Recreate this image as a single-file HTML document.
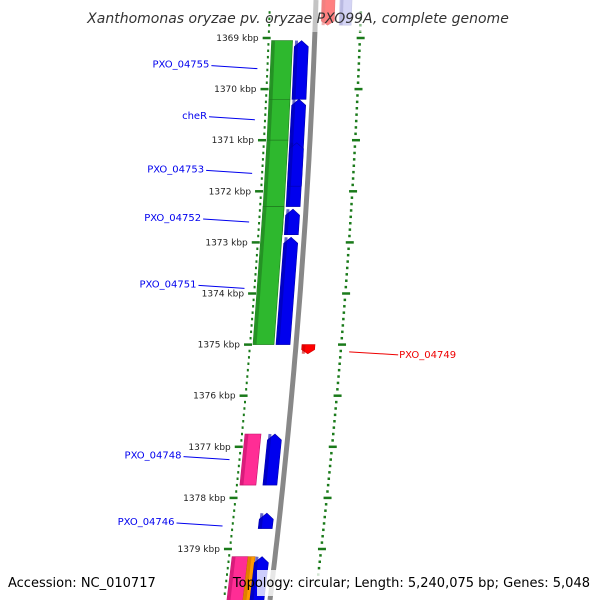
<!DOCTYPE html>
<html><head><meta charset="utf-8"><style>
body{margin:0;background:#fff}
svg{display:block;font-family:"DejaVu Sans","Liberation Sans",sans-serif}
</style></head><body>
<svg width="600" height="600" viewBox="0 0 600 600">
<g id="ticks"></g>
<g id="genes"></g>
<g id="labels"></g>
<text x="298" y="23" text-anchor="middle" font-size="14" font-style="italic" fill="#333">Xanthomonas oryzae pv. oryzae PXO99A, complete genome</text>
<text x="8" y="587" font-size="13" fill="#000">Accession: NC_010717</text>
<rect x="257" y="570" width="340" height="26" fill="#fff" opacity="0.8"/>
<text x="590" y="587" text-anchor="end" font-size="13" fill="#000">Topology: circular; Length: 5,240,075 bp; Genes: 5,048</text>
</svg>
<script>
const majorKbp=[1368,1369,1370,1371,1372,1373,1374,1375,1376,1377,1378,1379,1380];
const geneStart=[1369.05,1369.05,1370.2,1370.2,1371.0,1371.05,1372.3,1372.3,1372.35,1372.9,1376.75,1376.75,1378.3,1379.15,1379.15,1379.15,1368.2,1368.2,1375.0];
const geneEnd=[1370.2,1370.2,1371.0,1372.3,1372.3,1371.9,1372.85,1375.0,1372.85,1375.0,1377.75,1377.75,1378.6,1380.2,1380.2,1380.2,1368.75,1368.75,1375.18];
const geneTrack=["g","b","g","b","g","b","g","g","b","b","p","b","b","p","o","b","r1","r2","r1"];
const labelNames=["PXO_04755","cheR","PXO_04753","PXO_04752","PXO_04751","PXO_04749","PXO_04748","PXO_04746"];
const labelKbp=[1369.6,1370.6,1371.65,1372.6,1373.9,1375.2,1377.25,1378.55];
const labelSide=["L","L","L","L","L","R","L","L"];
const NS="http://www.w3.org/2000/svg";
function yOf(k){return 38+(k-1369)*51.1;}
function xb(y){return 316-0.0327*y-7.33e-5*y*y;}
function mk(t,a,p){const e=document.createElementNS(NS,t);for(const k in a)e.setAttribute(k,a[k]);p.appendChild(e);return e;}
const T=document.getElementById('ticks'),G=document.getElementById('genes'),L=document.getElementById('labels');
// backbone
let d="";for(let y=0;y<=600;y+=10){d+=(y?"L":"M")+xb(y).toFixed(1)+","+y;}
const bb=mk('path',{d:d,stroke:'#888',"stroke-width":5,fill:'none'},T);

// ticks
for(let k=1368;k<=1380.01;k+=0.125){const y=yOf(k);if(y<8||y>595)continue;const maj=Math.abs(k-Math.round(k))<0.01;const x=xb(y);
 const l=mk('line',{x1:x-(maj?52:47),x2:x-(maj?44:45),y1:y,y2:y,stroke:'#1a7a1a',"stroke-width":2.5},T);
 
 if(y<582){const r=mk('line',{x1:x+(maj?42:44),x2:x+(maj?50:46.5),y1:y,y2:y,stroke:'#1a7a1a',"stroke-width":2.5},T);
 }}
majorKbp.forEach(k=>{const y=yOf(k);if(y<30||y>560)return;const t=mk('text',{x:xb(y)-56,y:y+3,"text-anchor":"end","font-size":9,fill:'#222'},T);t.textContent=k+" kbp";
 });
const trk={g:[-43,-22,'#2eb82e','#1f7a1f'],b:[-20,-6,'#0000ee','#0000aa'],p:[-43,-27,'#ff2d95','#c0106a'],o:[-27,-20,'#ff9900','#cc7000'],r1:[6,19,'#ff0000','#cc0000'],r2:[24,36,'#7070dd','#5050aa']};
geneStart.forEach((s,i)=>{const tr=trk[geneTrack[i]];const y1=yOf(s),y2=yOf(geneEnd[i]);const a=tr[0],b=tr[1];
 const arrow=geneTrack[i]=='b'||geneTrack[i]=='r1';const h=6;
 let pts;
 if(geneTrack[i]=='b'){const ym=y1+h;pts=[[xb(ym)+a,ym],[xb(y1)+(a+b)/2,y1],[xb(ym)+b,ym],[xb(y2)+b,y2],[xb(y2)+a,y2]];}
 else if(geneTrack[i]=='r1'){const ym=y2-h*0.7;pts=[[xb(y1)+a,y1],[xb(y1)+b,y1],[xb(ym)+b,ym],[xb(y2)+(a+b)/2,y2],[xb(ym)+a,ym]];}
 else pts=[[xb(y1)+a,y1],[xb(y1)+b,y1],[xb(y2)+b,y2],[xb(y2)+a,y2]];
 const p=mk('polygon',{points:pts.map(q=>q[0].toFixed(1)+","+q[1].toFixed(1)).join(" "),fill:tr[2],stroke:tr[3],"stroke-width":0.6,opacity:(geneTrack[i]=='r2'?0.6:1)},G);
 
 const sx=[xb(y1)+a+2,xb(y2)+a+2];const st=mk('line',{x1:sx[0],y1:y1,x2:sx[1],y2:y2,stroke:tr[3],"stroke-width":3,opacity:0.6},G);
 });
// fade top
const fd=mk('rect',{x:300,y:0,width:80,height:32,fill:'#fff',opacity:0.5},G);
labelNames.forEach((n,i)=>{const y=yOf(labelKbp[i]);const x=xb(y);let t,l;
 if(labelSide[i]=='L'){l=mk('line',{x1:x-102,y1:y-3,x2:x-56,y2:y,stroke:'#0000ee'},L);t=mk('text',{x:x-104,y:y-1,"text-anchor":"end","font-size":10,fill:'#0000ee'},L);}
 else{l=mk('line',{x1:x+54,y1:y-3,x2:x+103,y2:y,stroke:'#ee0000'},L);t=mk('text',{x:x+104,y:y+3,"font-size":10,fill:'#ee0000'},L);}
 t.textContent=n;
 });
</script>
</body></html>
